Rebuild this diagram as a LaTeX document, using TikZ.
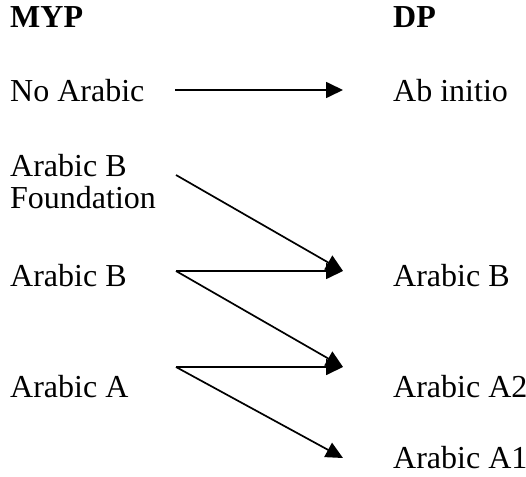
\documentclass[tikz,border=0pt]{standalone}
\usepackage{fontspec}
\setmainfont{Liberation Serif}
\usetikzlibrary{arrows.meta}

\begin{document}
\begin{tikzpicture}[x=1pt, y=-1pt, >={Triangle[length=17pt, width=16pt]},
    course/.style={anchor=base west, inner sep=0pt, font=\fontsize{32}{32}\selectfont},
    flow/.style={->, line width=1.7pt}]

    \useasboundingbox (0,0) rectangle (526,476);

    % Column heads
    \node[course, font=\fontsize{32}{32}\selectfont\bfseries] (myp) at (10,28) {MYP};
    \node[course, font=\fontsize{32}{32}\selectfont\bfseries] (dp) at (393,28) {DP};

    % MYP courses
    \node[course] (noarabic) at (10,101.7) {No Arabic};
    \node[course] (bfound) at (10,176.7) {Arabic B};
    \node[course] (bfound2) at (10,208) {Foundation};
    \node[course] (mypb) at (10,286) {Arabic B};
    \node[course] (mypa) at (10,397.5) {Arabic A};

    % DP courses
    \node[course] (abinitio) at (393,101.7) {Ab initio};
    \node[course] (dpb) at (393,286) {Arabic B};
    \node[course] (dpa2) at (393,397.5) {Arabic A2};
    \node[course] (dpa1) at (393,468) {Arabic A1};

    % Arrow ends
    \coordinate (noarabic-out) at (175,90);
    \coordinate (bfound-out) at (176,175);
    \coordinate (mypb-out) at (176,271);
    \coordinate (mypa-out) at (176,367);
    \coordinate (abinitio-in) at (343,90);
    \coordinate (dpb-in) at (343,271);
    \coordinate (dpa2-in) at (343,367);
    \coordinate (dpa1-in) at (343,458);

    % Pathways
    \draw[flow] (noarabic-out) -- (abinitio-in);
    \draw[flow] (bfound-out) -- (dpb-in);
    \draw[flow] (mypb-out) -- (dpb-in);
    \draw[flow] (mypb-out) -- (dpa2-in);
    \draw[flow] (mypa-out) -- (dpa2-in);
    \draw[flow] (mypa-out) -- (dpa1-in);

\end{tikzpicture}
\end{document}
